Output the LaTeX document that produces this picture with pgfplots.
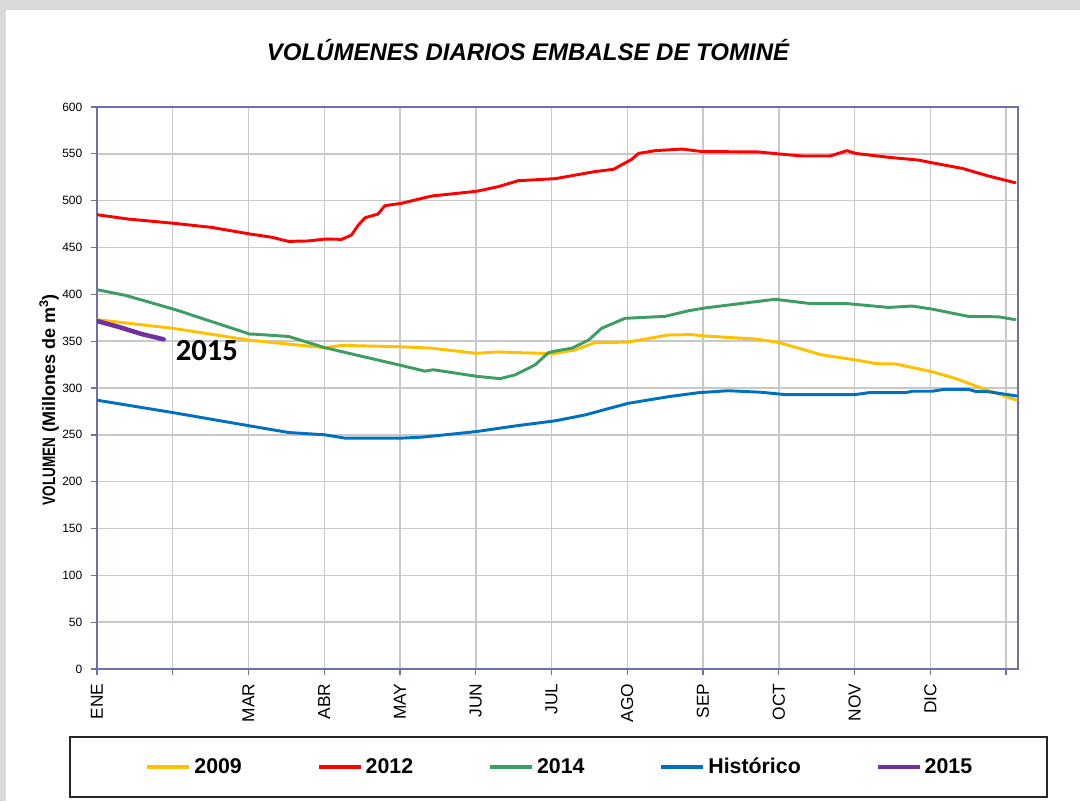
\documentclass[border=0pt]{standalone}
\usepackage{pgfplots}
\pgfplotsset{compat=1.18}
\usepackage{graphicx}
\usepackage{fontspec}
\setmainfont{Liberation Sans}
\newfontfamily\carlito{Carlito}

\definecolor{c2009}{RGB}{255,192,0}
\definecolor{c2012}{RGB}{255,0,0}
\definecolor{c2014}{RGB}{60,158,98}
\definecolor{chist}{RGB}{0,112,192}
\definecolor{c2015}{RGB}{112,48,160}
\definecolor{axiscol}{RGB}{112,112,168}
\definecolor{gridcol}{RGB}{200,200,200}
\definecolor{framecol}{RGB}{217,217,217}

\begin{document}
\begin{tikzpicture}[x=0.75pt, y=0.75pt]
  % page and grey frame
  \fill[white] (0,0) rectangle (1080,801);
  \fill[framecol] (0,791) rectangle (1080,801);
  \fill[framecol] (0,0) rectangle (6,801);

  \node[font=\bfseries\itshape\fontsize{18}{20}\selectfont] at (528,751) {VOLÚMENES DIARIOS EMBALSE DE TOMINÉ};

  % legend frame
  \draw[line width=1.2pt, black!85] (70,4) rectangle (1047,64);

  \begin{axis}[
      at={(72.75pt,99pt)}, anchor=south west,
      scale only axis,
      width=690.75pt, height=421.5pt,
      xmin=0, xmax=12.158,
      ymin=0, ymax=600,
      xtick={0,1,...,12},
      xticklabels={ENE,,MAR,ABR,MAY,JUN,JUL,AGO,SEP,OCT,NOV,DIC,},
      ytick={0,50,...,600},
      xtick pos=bottom, ytick pos=left,
      tick align=outside,
      major tick length=4.5pt,
      grid=major,
      major grid style={gridcol, line width=1.1pt},
      axis line style={axiscol, line width=1.1pt},
      tick style={axiscol, line width=1pt},
      /pgf/number format/assume math mode=true,
      yticklabel style={font=\fontsize{9}{10}\selectfont, xshift=-3pt},
      xticklabel style={font=\fontsize{13}{14}\selectfont, rotate=90, anchor=east, xshift=-3pt},
      ylabel={\scalebox{0.75}[1]{VOLUMEN} (Millones de m\textsuperscript{3})},
      ylabel style={font=\bfseries\fontsize{13.5}{14}\selectfont, at={(axis description cs:-0.052,0.479)}, anchor=center},
      legend columns=5,
      legend style={at={(axis description cs:0.503,-0.1744)}, anchor=center,
        draw=none, fill=none, font=\bfseries\fontsize{16}{18}\selectfont,
        nodes={inner sep=2.2pt}},
      /tikz/every even column/.append style={column sep=54pt},
      legend image code/.code={\draw[#1, line width=3pt, line cap=butt] (0pt,0pt) -- (31.5pt,0pt);},
      every axis plot/.append style={line join=round, line cap=round},
    ]
    \addplot[c2009, line width=2.2pt] coordinates {
      (0,373) (1.02,363.5) (2.02,351) (3.01,343) (3.23,345.5) (4.02,344)
      (4.42,342.5) (5.01,337) (5.28,338.5) (5.87,337) (6.05,337) (6.31,340.6)
      (6.57,348.4) (7.01,349) (7.54,356.6) (7.85,357) (8.03,355.5) (8.69,352.3)
      (8.99,348.8) (9.56,335.5) (10.01,330) (10.29,326) (10.55,325.6) (11.02,317.4)
      (11.33,310.3) (11.72,298.6) (12.14,287)
    };
    \addlegendentry{2009}
    \addplot[c2012, line width=2.2pt] coordinates {
      (0,485) (0.41,480.4) (1.02,475.8) (1.51,471.5) (2.02,464.4) (2.31,460.9)
      (2.53,456.5) (2.79,457) (3.01,459) (3.23,458.7) (3.36,463.3) (3.45,474)
      (3.54,481.8) (3.71,485.7) (3.80,494.6) (4.02,497.2) (4.42,505) (5.01,510)
      (5.30,515) (5.56,521.3) (6.05,523.5) (6.57,531) (6.82,533.5) (7.06,544.2)
      (7.15,550.5) (7.37,553.4) (7.72,555.1) (7.98,552.5) (8.73,552) (8.99,550)
      (9.30,547.7) (9.68,547.7) (9.90,553.4) (10.01,550.5) (10.45,546.3)
      (10.84,543.4) (11.02,540.5) (11.42,534.5) (11.77,526.3) (12.12,519.2)
    };
    \addlegendentry{2012}
    \addplot[c2014, line width=2.2pt] coordinates {
      (0,405) (0.37,399) (1.02,384) (1.51,371) (2.02,357.5) (2.07,357.5)
      (2.53,355) (3.01,343) (3.54,333) (4.02,324) (4.33,318) (4.44,319.5)
      (5.01,312.5) (5.32,310) (5.52,314) (5.78,324.5) (5.96,337.7) (6.05,339.5)
      (6.27,342.5) (6.49,351.2) (6.66,363.7) (6.97,374.4) (7.50,376.5)
      (7.81,382.5) (8.03,385.5) (8.69,392.1) (8.95,394.7) (9.43,390) (9.92,390)
      (10.45,386) (10.76,387.5) (11.02,384.3) (11.50,376.5) (11.90,376) (12.12,373)
    };
    \addlegendentry{2014}
    \addplot[chist, line width=2.2pt] coordinates {
      (0,287) (1.02,273.5) (2.02,259.5) (2.53,252.5) (3.01,250) (3.27,246.5)
      (4.02,246.5) (4.29,247.5) (5.01,253.5) (5.52,259.5) (6.05,265) (6.44,271.2)
      (6.66,276) (7.01,283.6) (7.54,290.7) (7.94,295) (8.33,297.1) (8.76,295.5)
      (9.08,293) (10.01,293) (10.19,295) (10.67,295) (10.76,296.5) (11.02,296.5)
      (11.19,298.6) (11.50,298.6) (11.59,296.5) (11.77,296) (12.14,291.5)
    };
    \addlegendentry{Histórico}
    \addplot[c2015, line width=3.4pt] coordinates {
      (0,371.5) (0.28,365.4) (0.59,357.6) (0.88,352)
    };
    \addlegendentry{2015}
    \node[font=\carlito\bfseries\fontsize{23}{25}\selectfont] at (axis cs:1.45,340.5) {2015};
  \end{axis}
\end{tikzpicture}
\end{document}
